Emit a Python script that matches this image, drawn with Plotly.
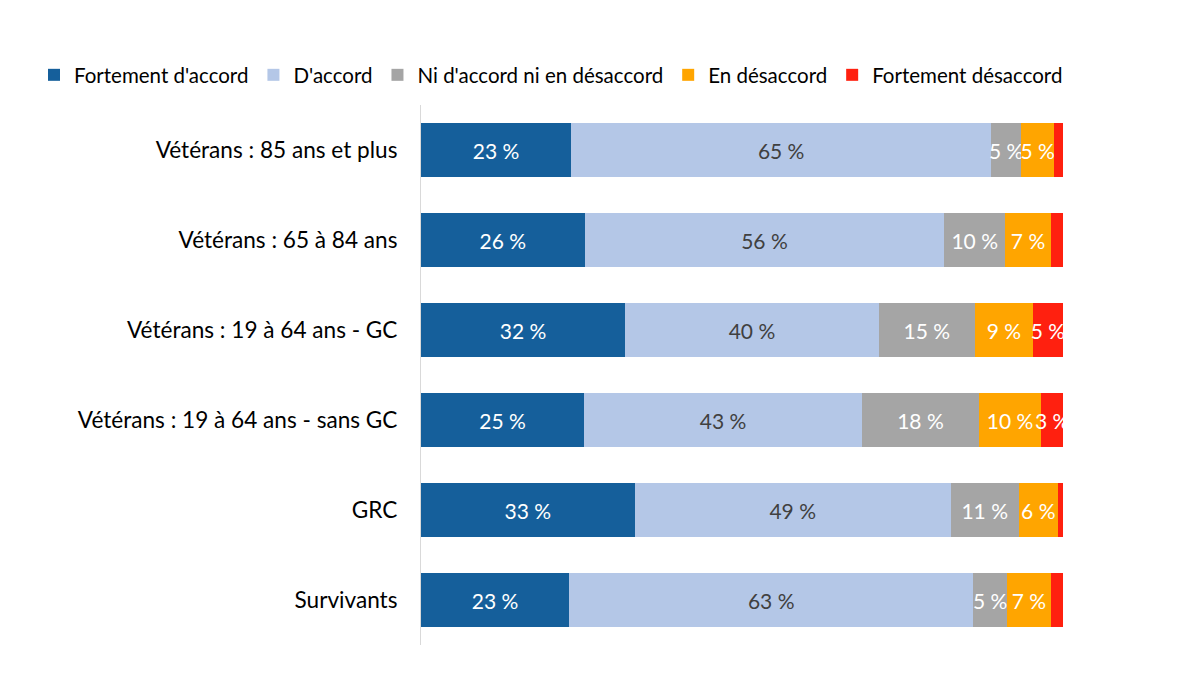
import plotly.graph_objects as go

categories = [
    "Vétérans : 85 ans et plus",
    "Vétérans : 65 à 84 ans",
    "Vétérans : 19 à 64 ans - GC",
    "Vétérans : 19 à 64 ans - sans GC",
    "GRC",
    "Survivants",
]
series_names = ["Fortement d'accord", "D'accord", "Ni d'accord ni en désaccord",
                "En désaccord", "Fortement désaccord"]
fortement_accord = [23.4, 25.5, 31.8, 25.4, 33.3, 23.1]
accord = [65.4, 56.0, 39.5, 43.3, 49.2, 62.9]
neutre = [4.7, 9.5, 15.0, 18.2, 10.6, 5.3]
desaccord = [5.1, 7.1, 9.0, 9.7, 6.1, 6.8]
fortement_desaccord = [1.4, 1.9, 4.7, 3.4, 0.8, 1.9]

series_values = [fortement_accord, accord, neutre, desaccord, fortement_desaccord]
colors = ["#155F9B", "#B4C7E7", "#A5A5A5", "#FFA500", "#FF200F"]
text_colors = ["white", "#404040", "white", "white", "white"]

FONT = "Lato"
W, H = 1200, 675
OFF = 8  # page body offset
X0, X1 = 421 - OFF, 1063 - OFF

fig = go.Figure()
for name, vals, col, tcol in zip(series_names, series_values, colors, text_colors):
    labels = [f"{round(v)} %" if v >= 2.5 else "" for v in vals]
    fig.add_trace(go.Bar(
        y=categories, x=vals, name=name, orientation="h",
        marker=dict(color=col, line=dict(width=0)),
        text=labels, textposition="inside", insidetextanchor="middle",
        textangle=0, constraintext="none",
        textfont=dict(color=tcol, size=21, family=FONT),
        hoverinfo="skip",
    ))

fig.update_layout(
    barmode="stack",
    bargap=0.41,
    width=W, height=H,
    margin=dict(l=0, r=0, t=105 - OFF, b=30 + OFF, autoexpand=False),
    paper_bgcolor="white", plot_bgcolor="white",
    font=dict(family=FONT, size=21, color="#000000"),
    uniformtext=dict(mode="show", minsize=21),
    showlegend=True,
    legend=dict(
        orientation="h", xref="container", yref="container",
        x=26 / W, xanchor="left", y=1 - 67 / H, yanchor="middle",
        font=dict(size=20.5, family=FONT, color="#000000"),
        itemwidth=30, traceorder="normal",
    ),
    xaxis=dict(range=[0, 100], visible=False, fixedrange=True,
               domain=[X0 / W, X1 / W]),
    yaxis=dict(
        autorange="reversed", showline=True, linecolor="#D9D9D9", linewidth=1,
        showgrid=False, ticks="", ticklabelstandoff=18, automargin=False,
        tickfont=dict(size=22.6, family=FONT, color="#000000"),
    ),
)

fig.write_html("out.html")
